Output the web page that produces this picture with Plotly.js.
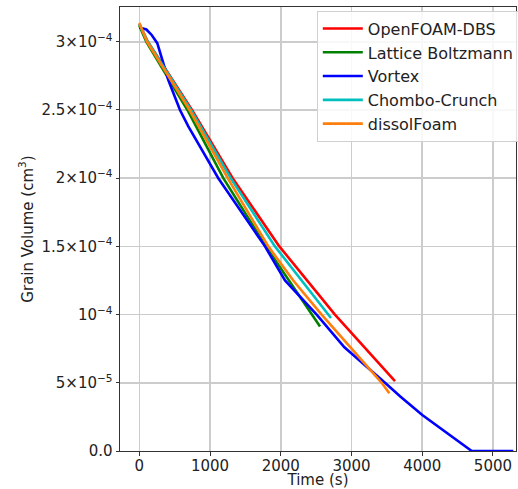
<!DOCTYPE html>
<html>
<head>
<meta charset="utf-8">
<script src="https://cdn.plot.ly/plotly-3.0.1.min.js"></script>
<style>html,body{margin:0;padding:0;background:#fff;}#chart{width:518px;height:489px;}</style>
</head>
<body>
<div id="chart"></div>
<script>
const seriesNames = ["OpenFOAM-DBS", "Lattice Boltzmann", "Vortex", "Chombo-Crunch", "dissolFoam"];
const seriesColors = ["#ff0000", "#008000", "#0000ff", "#00bfbf", "#ff7f0e"];

const openfoamT = [0, 120, 745, 1320, 1980, 2766, 3615];
const openfoamV = [3.13e-4, 3.0e-4, 2.5e-4, 2.0e-4, 1.5e-4, 1.0e-4, 5.13e-5];

const latticeT = [0, 100, 680, 1188, 1790, 2437, 2555];
const latticeV = [3.12e-4, 3.0e-4, 2.5e-4, 2.0e-4, 1.5e-4, 1.0e-4, 9.12e-5];

const vortexT = [0, 100, 175, 254, 410, 575, 693, 1117, 1777, 2060, 2508, 2900, 3474, 3694, 4001, 4298, 4700, 5288];
const vortexV = [3.105e-4, 3.09e-4, 3.05e-4, 2.99e-4, 2.72e-4, 2.5e-4, 2.38e-4, 2.0e-4, 1.5e-4, 1.25e-4, 1.0e-4, 7.6e-5, 5.0e-5, 3.98e-5, 2.64e-5, 1.54e-5, 0, 0];

const chomboT = [0, 120, 730, 1292, 1918, 2670, 2710];
const chomboV = [3.13e-4, 3.0e-4, 2.5e-4, 2.0e-4, 1.5e-4, 1.0e-4, 9.75e-5];

const dissolT = [0, 110, 710, 1250, 1824, 2177, 2578, 3427, 3535];
const dissolV = [3.137e-4, 3.0e-4, 2.5e-4, 2.0e-4, 1.5e-4, 1.25e-4, 1.0e-4, 5.0e-5, 4.23e-5];

const xTickVals = [0, 1000, 2000, 3000, 4000, 5000];
const xTickText = ["0", "1000", "2000", "3000", "4000", "5000"];
const yTickVals = [0, 5e-5, 1e-4, 1.5e-4, 2e-4, 2.5e-4, 3e-4];
const yTickText = ["0.0", "5×10<sup>−5</sup>", "10<sup>−4</sup>", "1.5×10<sup>−4</sup>", "2×10<sup>−4</sup>", "2.5×10<sup>−4</sup>", "3×10<sup>−4</sup>"];

const xs = [openfoamT, latticeT, vortexT, chomboT, dissolT];
const ys = [openfoamV, latticeV, vortexV, chomboV, dissolV];

const traces = seriesNames.map((n, i) => ({
  x: xs[i], y: ys[i], name: n, type: "scatter", mode: "lines",
  line: {color: seriesColors[i], width: 2.6}
}));

const font = {family: "DejaVu Sans, sans-serif", size: 15, color: "#222"};
const layout = {
  width: 518, height: 489,
  margin: {l: 120, r: 2, t: 7, b: 38, autoexpand: false},
  paper_bgcolor: "#fff", plot_bgcolor: "#fff",
  font: font,
  showlegend: true,
  legend: {
    x: 0.497, y: 0.992, xanchor: "left", yanchor: "top",
    bgcolor: "rgba(255,255,255,0.85)", bordercolor: "#d0d0d0", borderwidth: 1,
    font: {family: "DejaVu Sans, sans-serif", size: 16, color: "#222"},
    itemwidth: 40,
    tracegroupgap: 0
  },
  xaxis: {
    range: [-273, 5326],
    tickvals: xTickVals, ticktext: xTickText,
    showgrid: true, gridcolor: "#cccccc", gridwidth: 1.5,
    showline: true, linecolor: "#333", linewidth: 1, mirror: true,
    ticks: "outside", ticklen: 3.5, tickcolor: "#333",
    ticklabelstandoff: -3,
    zeroline: false,
    title: {text: "Time (s)", font: font, standoff: 4}
  },
  yaxis: {
    range: [0, 3.255e-4],
    tickvals: yTickVals, ticktext: yTickText,
    showgrid: true, gridcolor: "#cccccc", gridwidth: 1.5,
    showline: true, linecolor: "#333", linewidth: 1, mirror: true,
    ticks: "outside", ticklen: 3.5, tickcolor: "#333",
    zeroline: false,
    title: {text: "Grain Volume (cm<sup>3</sup>)", font: font, standoff: 4}
  }
};
Plotly.newPlot("chart", traces, layout, {staticPlot: true, displayModeBar: false});
</script>
</body>
</html>
